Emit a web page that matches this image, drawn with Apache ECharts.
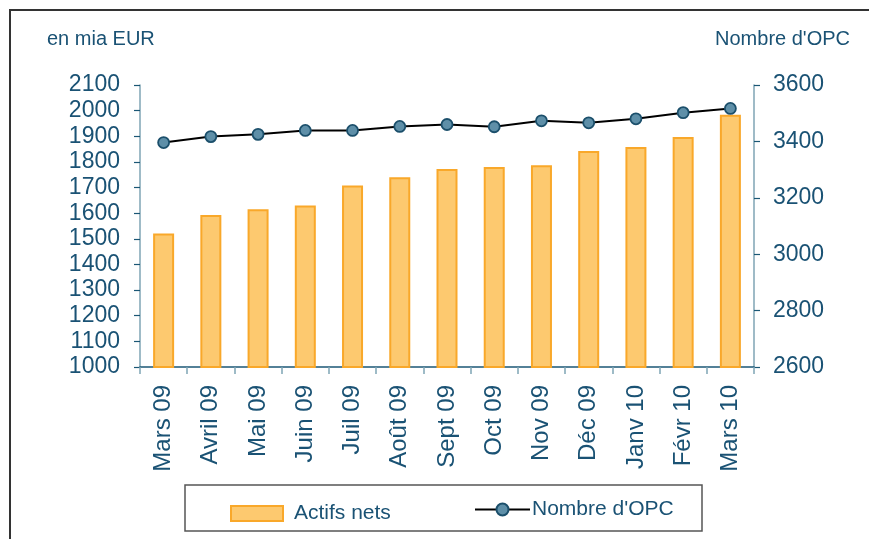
<!DOCTYPE html>
<html><head><meta charset="utf-8">
<script src="https://cdn.jsdelivr.net/npm/echarts@6/dist/echarts.min.js"></script>
<style>html,body{margin:0;padding:0;background:#fff}#c{width:869px;height:539px}</style>
</head><body><div id="c"></div>
<script>
const categories = ['Mars 09','Avril 09','Mai 09','Juin 09','Juil 09','Août 09','Sept 09','Oct 09','Nov 09','Déc 09','Janv 10','Févr 10','Mars 10'];
const actifsNets = [1521, 1593, 1615, 1630, 1708, 1740, 1772, 1780, 1787, 1843, 1858, 1897, 1984];
const nombreOPC = [3396, 3417, 3425, 3439, 3439, 3453, 3460, 3452, 3473, 3466, 3480, 3502, 3517];
const leftTicks = {min: 1000, max: 2100, interval: 100};
const rightTicks = {min: 2600, max: 3600, interval: 200};

const txt = '#1a5274';
const axLight = '#7fa5b5';
const axDark = '#1b5775';
const font = 'Liberation Sans, Arial, sans-serif';
const plain = v => String(v);

const chart = echarts.init(document.getElementById('c'), null, {renderer: 'canvas'});
chart.setOption({
  animation: false,
  backgroundColor: '#fff',
  textStyle: {fontFamily: font},
  grid: {left: 140, right: 115, top: 85, bottom: 172, containLabel: false},
  xAxis: {
    type: 'category', data: categories, boundaryGap: true,
    axisLine: {lineStyle: {color: axDark, width: 1.5}},
    axisTick: {show: true, alignWithLabel: false, length: 7, lineStyle: {color: axLight, width: 1.5}},
    axisLabel: {rotate: 90, fontSize: 24, color: txt, margin: 18, fontFamily: font, interval: 0},
    splitLine: {show: false}
  },
  yAxis: [{
    type: 'value', position: 'left', min: leftTicks.min, max: leftTicks.max, interval: leftTicks.interval,
    axisLine: {show: true, lineStyle: {color: axLight, width: 1.5}},
    axisTick: {show: true, length: 6, lineStyle: {color: axDark, width: 1.2}},
    axisLabel: {fontSize: 23, color: txt, margin: 20, fontFamily: font, formatter: plain},
    splitLine: {show: false}
  }, {
    type: 'value', position: 'right', min: rightTicks.min, max: rightTicks.max, interval: rightTicks.interval,
    axisLine: {show: true, lineStyle: {color: axLight, width: 1.5}},
    axisTick: {show: true, length: 6, lineStyle: {color: axDark, width: 1.2}},
    axisLabel: {fontSize: 23, color: txt, margin: 19, fontFamily: font, formatter: plain},
    splitLine: {show: false}
  }],
  legend: [{
    data: [{name: 'Actifs nets', icon: 'rect'}], left: 225, top: 498, itemWidth: 52, itemHeight: 15,
    textStyle: {fontSize: 21, color: txt, fontFamily: font, padding: [0,0,0,6]}
  }, {
    data: ["Nombre d'OPC"], left: 469, top: 494, itemWidth: 55, itemHeight: 15,
    textStyle: {fontSize: 21, color: txt, fontFamily: font, padding: [0,0,0,-3]}
  }],
  series: [{
    name: 'Actifs nets', type: 'bar', yAxisIndex: 0, data: actifsNets, barWidth: 21,
    itemStyle: {color: '#fdc96f', borderColor: '#f9a82a', borderWidth: 2}
  }, {
    name: "Nombre d'OPC", type: 'line', yAxisIndex: 1, data: nombreOPC, z: 5,
    symbol: 'circle', symbolSize: 11,
    lineStyle: {color: '#000', width: 2},
    itemStyle: {color: '#5e8fa8', borderColor: '#1b4f6b', borderWidth: 1.8}
  }],
  graphic: [
    {type: 'polyline', shape: {points: [[10, 545], [10, 10], [875, 10]]}, style: {stroke: '#333', lineWidth: 2, fill: null}, z: 0},
    {type: 'rect', shape: {x: 185, y: 485, width: 517, height: 46}, style: {stroke: '#555', lineWidth: 1.5, fill: null}, z: 0},
    {type: 'text', left: 47, top: 29, style: {text: 'en mia EUR', fontSize: 20, fill: txt, fontFamily: font}},
    {type: 'text', right: 19, top: 29, style: {text: "Nombre d'OPC", fontSize: 20, fill: txt, fontFamily: font}}
  ]
});
</script></body></html>
